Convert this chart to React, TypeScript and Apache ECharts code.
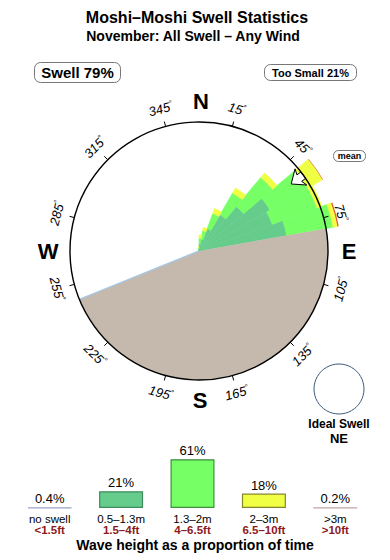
import React, { useEffect, useRef } from 'react';
import * as echarts from 'echarts';

// ---------- data ----------
const angleCats = ['0','10','20','30','40','50','60','70','80','90','100','110','120','130','140','150','160','170',
  '180','190','200','210','220','230','240','250','260','270','280','290','300','310','320','330','340','350'];
// start bearing of each populated 10° direction bin
const dirBins = [350, 0, 10, 20, 30, 40, 50, 60, 70];
// radial extent of each wave-height band (rim of the circle = 10)
const swell05to13 = [0.15, 0.55, 0.9, 1.85, 3.25, 4.5, 6.35, 6.05, 6.9];
const swell13to2 = [0.1, 0.45, 0.7, 1.25, 1.95, 2.95, 3.4, 3.7, 3.65];
const swell2to3 = [0.08, 0.25, 0.25, 0.4, 0.45, 0.45, 1.3, 0.4, 0.35];
const swellOver3 = [0, 0, 0, 0, 0, 0, 0.05, 0, 0.1];
const tickBearings = [15, 45, 75, 105, 135, 165, 195, 225, 255, 285, 315, 345];
const shadowFrom = 80;
const shadowTo = 248;
const meanBearing = 54;
const swellPct = 79;
const tooSmallPct = 21;

const legendCats = ['no swell', '0.5–1.3m', '1.3–2m', '2–3m', '>3m'];
const legendFt = ['<1.5ft', '1.5–4ft', '4–6.5ft', '6.5–10ft', '>10ft'];
const legendPct = [0.4, 21, 61, 18, 0.2];

// ---------- styles ----------
const FONT = 'Liberation Sans, Arial, Helvetica, sans-serif';
const roseColors = ['#66cc8c', '#77ff66', '#eeff44', '#e85a30'];
const legendFill = ['#9aa3c6', '#66cc8c', '#77ff66', '#f0ff44', '#c4a4a4'];
const legendBorder = ['#9aa3c6', '#3f8a5c', '#3e8e3e', '#85852a', '#c4a4a4'];
const CX = 199, CY = 251, RIM = 129;

function toSeries(vals: number[]) {
  const d: any[] = angleCats.map(() => '-');
  dirBins.forEach((b, i) => { if (vals[i] > 0) d[b / 10] = vals[i]; });
  return d;
}
function pol(b: number, r: number, t = 0): number[] {
  const a = (b * Math.PI) / 180;
  return [CX + r * Math.sin(a) + t * Math.cos(a), CY - r * Math.cos(a) + t * Math.sin(a)];
}

export default function App() {
  const ref = useRef<HTMLDivElement>(null);
  useEffect(() => {
    if (!ref.current) return;
    const chart = echarts.init(ref.current, undefined, { renderer: 'svg' });

    const bands = [swell05to13, swell13to2, swell2to3, swellOver3];
    const roseSeries = bands.map((vals, i) => ({
      type: 'bar',
      coordinateSystem: 'polar',
      polarIndex: 1,
      stack: 'rose',
      barCategoryGap: '0%',
      data: toSeries(vals),
      itemStyle: i < 3
        ? { color: roseColors[i], borderColor: roseColors[i], borderWidth: 0.6 }
        : { color: roseColors[i] },
      silent: true,
    }));

    const tickLabels = tickBearings.map((b) => {
      let cw = b;
      if (cw > 180) cw -= 360;
      if (cw > 90) cw -= 180;
      if (cw < -90) cw += 180;
      const [x, y] = pol(b, 147);
      return {
        type: 'text', x, y, rotation: (-cw * Math.PI) / 180, z: 12,
        style: {
          text: `{n|${b}}{d|°}`, align: 'center', verticalAlign: 'middle', fill: '#000',
          rich: {
            n: { fontSize: 13, fontStyle: 'italic', fontFamily: FONT, lineHeight: 14, fill: '#000' },
            d: { fontSize: 8, fontFamily: FONT, lineHeight: 14, verticalAlign: 'top', fill: '#000' },
          },
        },
      };
    });

    const letters = [
      ['N', 201, 101], ['E', 349, 251], ['S', 200, 400], ['W', 48, 251],
    ].map(([t, x, y]) => ({
      type: 'text', x, y, z: 12,
      style: { text: t, fontSize: 22, fontWeight: 'bold', fontFamily: FONT, align: 'center', verticalAlign: 'middle', fill: '#000' },
    }));

    const arrowPts = [
      pol(meanBearing, 114, 0), pol(meanBearing, 126, -10), pol(meanBearing, 124, -4),
      pol(meanBearing, 129, -4), pol(meanBearing, 129, 4), pol(meanBearing, 124, 4), pol(meanBearing, 126, 10),
    ];
    const rad = (d: number) => (d * Math.PI) / 180;
    const edge = pol(shadowTo, RIM);

    const txt = (text: string, x: number, y: number, size: number, weight: string, extra: any = {}) => ({
      type: 'text', x, y, z: 12,
      style: { text, fontSize: size, fontWeight: weight, fontFamily: FONT, align: 'center', verticalAlign: 'middle', fill: '#000', ...extra },
    });

    const option: any = {
      animation: false,
      textStyle: { fontFamily: FONT },
      polar: [
        { center: [CX, CY], radius: RIM },
        { center: [CX, CY], radius: RIM * 1.2 },
      ],
      angleAxis: [
        {
          polarIndex: 0, type: 'value', min: 0, max: 360, interval: 30, startAngle: 90 - tickBearings[0], clockwise: true,
          axisLine: { show: true, lineStyle: { color: '#000', width: 1.4 } },
          axisTick: { show: true, length: 5, lineStyle: { color: '#000', width: 1 } },
          axisLabel: { show: false }, splitLine: { show: false }, z: 10,
        },
        { polarIndex: 1, type: 'category', data: angleCats, startAngle: 90, clockwise: true, boundaryGap: true, show: false },
      ],
      radiusAxis: [
        { polarIndex: 0, type: 'value', min: 0, max: 10, show: false },
        { polarIndex: 1, type: 'value', min: 0, max: 12, show: false },
      ],
      grid: { left: 14, width: 357, top: 428, height: 80 },
      xAxis: {
        type: 'category', data: legendCats,
        axisLine: { show: false }, axisTick: { show: false },
        axisLabel: {
          interval: 0, margin: 5,
          formatter: (v: string, i: number) => `{a|${v}}\n{b|${legendFt[i]}}`,
          rich: {
            a: { fontSize: 11.5, fontFamily: FONT, color: '#000', lineHeight: 11.5 },
            b: { fontSize: 11.5, fontFamily: FONT, fontWeight: 'bold', color: '#8c1a1a', lineHeight: 11.5 },
          },
        },
      },
      yAxis: { type: 'value', min: 0, max: 100, show: false },
      series: [
        ...roseSeries,
        {
          type: 'bar', xAxisIndex: 0, yAxisIndex: 0, barWidth: 44, silent: true,
          data: legendPct.map((v, i) => ({
            value: v,
            itemStyle: { color: legendFill[i], borderColor: legendBorder[i], borderWidth: 1.2 },
          })),
          label: {
            show: true, position: 'top', distance: 2, fontSize: 13, color: '#000', fontFamily: FONT,
            formatter: (p: any) => `${p.value}%`,
          },
        },
      ],
      graphic: [
        {
          type: 'sector', z: 3,
          shape: { cx: CX, cy: CY, r: RIM, r0: 0, startAngle: rad(shadowFrom - 90), endAngle: rad(shadowTo - 90), clockwise: true },
          style: { fill: '#c4b9ac' },
        },
        {
          type: 'line', z: 4,
          shape: { x1: CX, y1: CY, x2: edge[0], y2: edge[1] },
          style: { stroke: '#a9c6e0', lineWidth: 1.5 },
        },
        {
          type: 'polygon', z: 5,
          shape: { points: arrowPts },
          style: { fill: '#fff', stroke: '#000', lineWidth: 1 },
        },
        ...tickLabels,
        ...letters,
        txt('Moshi–Moshi Swell Statistics', 197, 17, 16, 'bold'),
        txt('November: All Swell – Any Wind', 193, 36, 14, 'bold'),
        { type: 'rect', z: 11, shape: { x: 34.5, y: 62.5, width: 86, height: 20, r: 6 }, style: { fill: '#fff', stroke: '#777', lineWidth: 1 } },
        txt(`Swell ${swellPct}%`, 77.5, 72.5, 15, 'bold'),
        { type: 'rect', z: 11, shape: { x: 264.5, y: 64.5, width: 92, height: 16, r: 6 }, style: { fill: '#fff', stroke: '#777', lineWidth: 1 } },
        txt(`Too Small ${tooSmallPct}%`, 310.5, 72.5, 11, 'bold'),
        { type: 'rect', z: 11, shape: { x: 333.5, y: 150.5, width: 32, height: 11, r: 5 }, style: { fill: '#fff', stroke: '#777', lineWidth: 1 } },
        txt('mean', 349.5, 156, 9, 'bold'),
        { type: 'circle', z: 11, shape: { cx: 339, cy: 389, r: 25 }, style: { fill: '#fff', stroke: '#3d5a7a', lineWidth: 1 } },
        txt('Ideal Swell', 339, 424, 12, 'bold'),
        txt('NE', 339, 438, 13, 'bold'),
        txt('Wave height as a proportion of time', 195, 545, 14, 'bold'),
      ],
    };
    chart.setOption(option);
    return () => chart.dispose();
  }, []);
  return <div ref={ref} style={{ position: 'fixed', left: 0, top: 0, width: 390, height: 560, background: '#fff' }} />;
}
